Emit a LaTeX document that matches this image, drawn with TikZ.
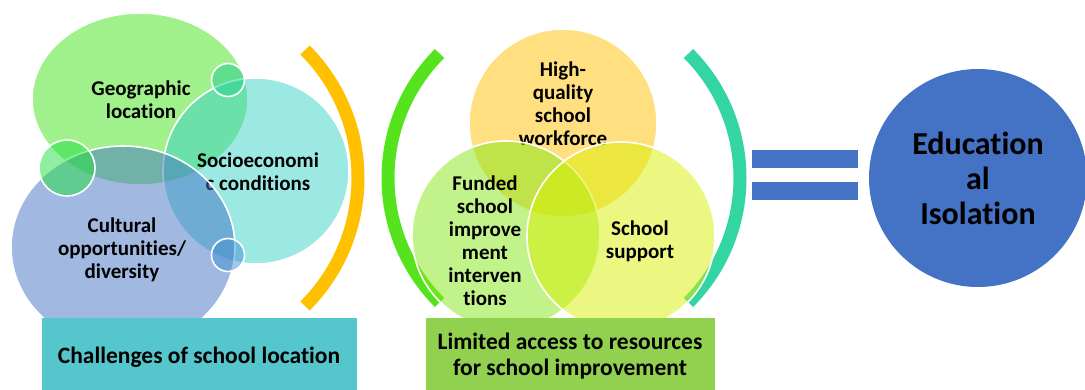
\documentclass[tikz,border=0pt]{standalone}
\usepackage{fontspec}
\setmainfont{Carlito}[Ligatures=NoCommon]
\usetikzlibrary{shapes.geometric}

% base colours, used at half opacity over white
\definecolor{geoGreen}{HTML}{41E119}
\definecolor{socTeal}{HTML}{39D1C5}
\definecolor{culBlue}{HTML}{4472C4}
\definecolor{dotGreen}{HTML}{20E040}
\definecolor{dotTeal}{HTML}{20D090}
\definecolor{dotBlue}{HTML}{4090D0}
\definecolor{hqOrange}{HTML}{FFC000}
\definecolor{fundGreen}{HTML}{85E715}
\definecolor{suppYellow}{HTML}{D7EF01}
\definecolor{arcOrange}{HTML}{FFC000}
\definecolor{arcGreen}{HTML}{55E31E}
\definecolor{arcTeal}{HTML}{33D6A3}
\definecolor{boxTeal}{HTML}{54C6CC}
\definecolor{boxGreen}{HTML}{92D050}
\definecolor{eduBlue}{HTML}{4472C4}

\begin{document}
\begin{tikzpicture}[x=1pt,y=-1pt,
  bubble/.style={circle, draw=white, line width=1.6pt, fill opacity=0.5,
    inner sep=0pt, minimum size=#1},
  blob/.style={ellipse, draw=white, line width=1.6pt, fill opacity=0.5, inner sep=0pt},
  lbl/.style={font=\bfseries\fontsize{21}{23}\selectfont, align=center, text=black, inner sep=0pt},
  boxlbl/.style={font=\bfseries\fontsize{23.5}{26}\selectfont, align=center, text=black},
  bracket/.style={line width=13pt},
  bar/.style={rectangle, fill=eduBlue, minimum width=106pt, minimum height=18pt, inner sep=0pt}
]
\useasboundingbox (0,0) rectangle (1085,390);

% ---------- challenges of school location ----------
\draw[bracket, arcOrange] (177,178) ++(-45:181) arc (-45:45:181);

\node[blob, fill=geoGreen, minimum width=216pt, minimum height=172pt] (geo) at (140,99) {};
\node[lbl] (geoT) at (141,100) {Geographic\\location};

\node[bubble=186pt, fill=socTeal] (soc) at (256,171) {};
\node[lbl] (socT) at (258,172) {Socioeconomi\\c conditions};

\node[blob, fill=culBlue, minimum width=224pt, minimum height=202pt] (cul) at (123,247) {};
\node[lbl] (culT) at (122,250) {Cultural\\opportunities/\\diversity};

\node[bubble=33pt, fill=dotTeal] (dotA) at (228,80) {};
\node[bubble=56pt, fill=dotGreen] (dotB) at (67,168) {};
\node[bubble=33pt, fill=dotBlue] (dotC) at (228,255) {};

\node[rectangle, fill=boxTeal, minimum width=315pt, minimum height=72pt, inner sep=0pt,
  anchor=north west] (boxA) at (42,318) {};
\node[boxlbl] (boxAT) at (199,357) {Challenges of school location};

% ---------- limited access to resources ----------
\draw[bracket, arcGreen] (564,178) ++(135:176) arc (135:225:176);
\draw[bracket, arcTeal] (564,178) ++(-45:176) arc (-45:45:176);

\node[bubble=188pt, fill=hqOrange] (hq) at (563,123) {};
\node[lbl] (hqT) at (563,104) {High-\\quality\\school\\workforce};

\node[bubble=188pt, fill=fundGreen] (fund) at (506,235) {};
\node[lbl] (fundT) at (485,241) {Funded\\school\\improve\\ment\\interven\\tions};

\node[bubble=188pt, fill=suppYellow] (supp) at (621,236) {};
\node[lbl] (suppT) at (640,241) {School\\support};

\node[rectangle, fill=boxGreen, minimum width=289pt, minimum height=72pt, inner sep=0pt,
  anchor=north west] (boxB) at (426,318) {};
\node[boxlbl] (boxBT) at (570,356) {Limited access to resources\\for school improvement};

% ---------- equals sign and outcome ----------
\node[bar] (barTop) at (805,159) {};
\node[bar] (barBot) at (805,191.5) {};

\node[circle, fill=eduBlue, minimum size=218pt, inner sep=0pt] (edu) at (978,178) {};
\node[font=\bfseries\fontsize{32}{35}\selectfont, align=center, text=black] (eduT) at (978,178)
  {Education\\al\\Isolation};
\end{tikzpicture}
\end{document}
